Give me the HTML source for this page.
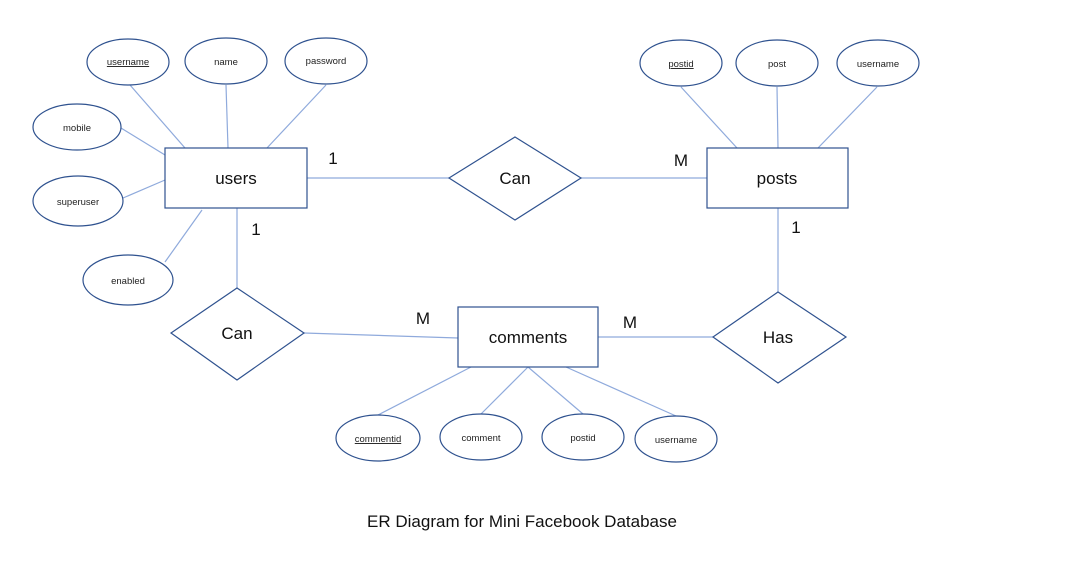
<!DOCTYPE html>
<html><head><style>
html,body{margin:0;padding:0;background:#fff;}
svg{display:block;font-family:"Liberation Sans","DejaVu Sans",sans-serif;}
</style></head><body>
<svg width="1065" height="570" viewBox="0 0 1065 570" xmlns="http://www.w3.org/2000/svg">
<g stroke="#8FAADC" stroke-width="1.2" fill="none">
<line x1="130" y1="85" x2="185" y2="148"/>
<line x1="226" y1="85" x2="228" y2="148"/>
<line x1="326" y1="85" x2="267" y2="148"/>
<line x1="121" y1="128" x2="165" y2="155"/>
<line x1="123" y1="198" x2="165" y2="180"/>
<line x1="165" y1="262" x2="202" y2="210"/>
<line x1="307" y1="178" x2="449" y2="178"/>
<line x1="581" y1="178" x2="707" y2="178"/>
<line x1="681" y1="87" x2="737" y2="148"/>
<line x1="777" y1="87" x2="778" y2="148"/>
<line x1="877" y1="87" x2="818" y2="148"/>
<line x1="778" y1="208" x2="778" y2="292"/>
<line x1="713" y1="337" x2="598" y2="337"/>
<line x1="237" y1="208" x2="237" y2="288"/>
<line x1="304" y1="333" x2="458" y2="338"/>
<line x1="471" y1="367" x2="378" y2="415"/>
<line x1="528" y1="367" x2="481" y2="414"/>
<line x1="528" y1="367" x2="583" y2="414"/>
<line x1="566" y1="367" x2="676" y2="416"/>
</g>
<g stroke="#2F528F" stroke-width="1.2" fill="#fff">
<rect x="165" y="148" width="142" height="60"/>
<rect x="707" y="148" width="141" height="60"/>
<rect x="458" y="307" width="140" height="60"/>
<polygon points="515,137 581,178 515,220 449,178"/>
<polygon points="778,292 846,337 778,383 713,337"/>
<polygon points="237,288 304,333 237,380 171,333"/>
<ellipse cx="128" cy="62" rx="41" ry="23"/>
<ellipse cx="226" cy="61" rx="41" ry="23"/>
<ellipse cx="326" cy="61" rx="41" ry="23"/>
<ellipse cx="77" cy="127" rx="44" ry="23"/>
<ellipse cx="78" cy="201" rx="45" ry="25"/>
<ellipse cx="128" cy="280" rx="45" ry="25"/>
<ellipse cx="681" cy="63" rx="41" ry="23"/>
<ellipse cx="777" cy="63" rx="41" ry="23"/>
<ellipse cx="878" cy="63" rx="41" ry="23"/>
<ellipse cx="378" cy="438" rx="42" ry="23"/>
<ellipse cx="481" cy="437" rx="41" ry="23"/>
<ellipse cx="583" cy="437" rx="41" ry="23"/>
<ellipse cx="676" cy="439" rx="41" ry="23"/>
</g>
<g fill="#222" font-size="9.5" text-anchor="middle">
<text x="128" y="65" text-decoration="underline">username</text>
<text x="226" y="65">name</text>
<text x="326" y="64">password</text>
<text x="77" y="131">mobile</text>
<text x="78" y="205">superuser</text>
<text x="128" y="284">enabled</text>
<text x="681" y="67" text-decoration="underline">postid</text>
<text x="777" y="67">post</text>
<text x="878" y="67">username</text>
<text x="378" y="442" text-decoration="underline">commentid</text>
<text x="481" y="441">comment</text>
<text x="583" y="441">postid</text>
<text x="676" y="443">username</text>
</g>
<g fill="#111" font-size="17" text-anchor="middle">
<text x="236" y="184">users</text>
<text x="777" y="184">posts</text>
<text x="528" y="343">comments</text>
<text x="515" y="184">Can</text>
<text x="778" y="343">Has</text>
<text x="237" y="339">Can</text>
<text x="333" y="164">1</text>
<text x="681" y="166">M</text>
<text x="796" y="233">1</text>
<text x="256" y="235">1</text>
<text x="423" y="324">M</text>
<text x="630" y="328">M</text>
<text x="522" y="527" font-size="17">ER Diagram for Mini Facebook Database</text>
</g>
</svg>
</body></html>
